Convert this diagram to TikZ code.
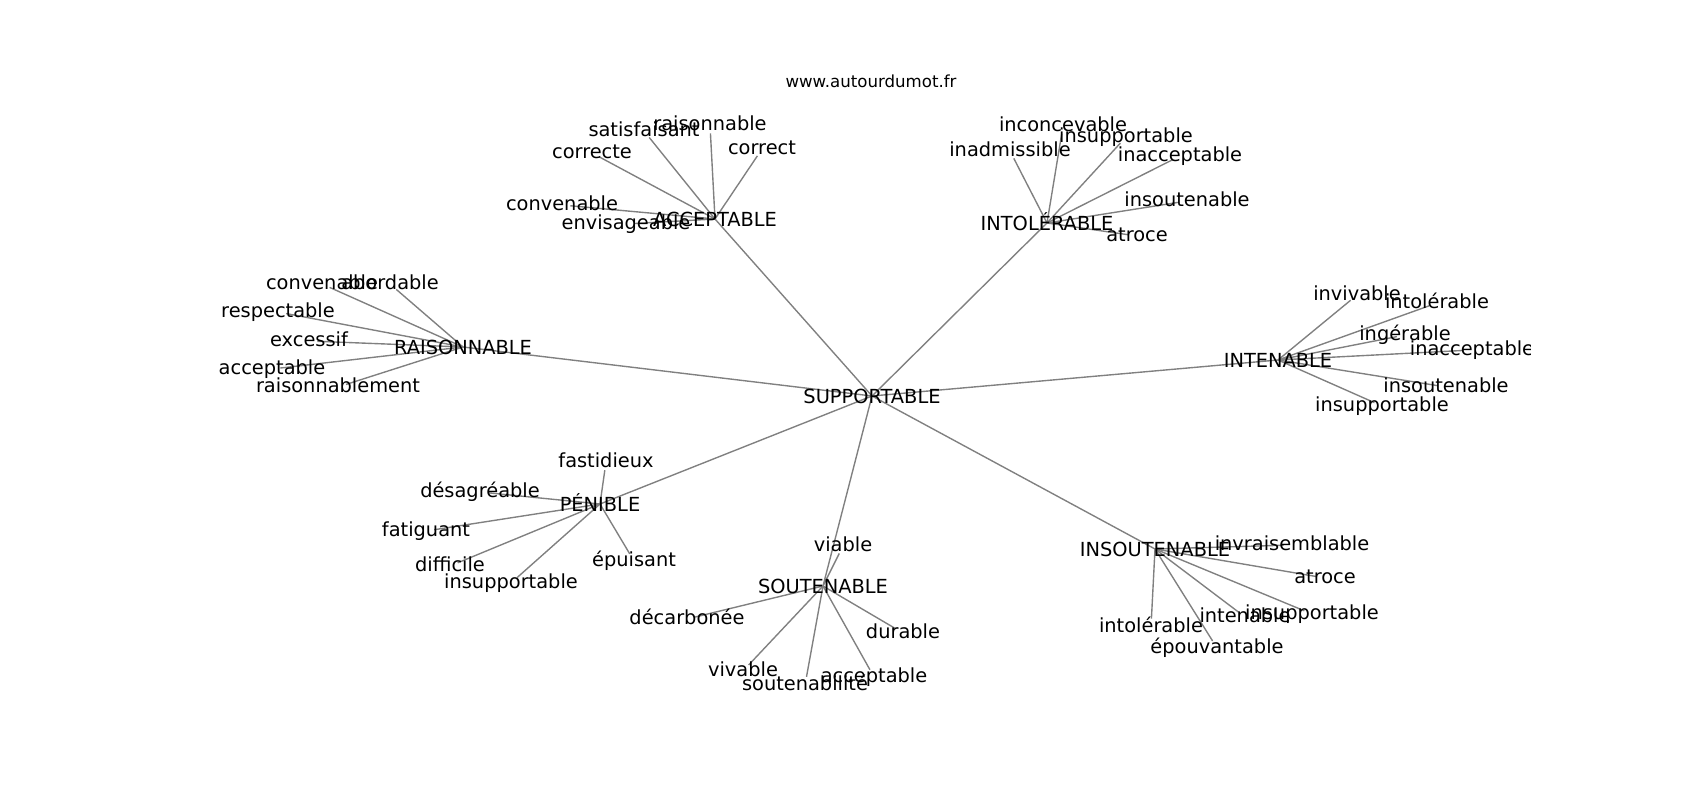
\documentclass[tikz,border=0pt]{standalone}
\usepackage{fontspec}
\setmainfont{DejaVu Sans}
\usetikzlibrary{backgrounds}

\tikzset{
  word/.style={font=\fontsize{14}{16}\selectfont, inner sep=0pt, text height=10.6pt, text depth=2.9pt},
  hubword/.style={word, text height=13.5pt},
  link/.style={draw=black!50, line width=1pt},
  leaflink/.style={link, shorten >=6pt},
}

\begin{document}
\begin{tikzpicture}[x=0.01in, y=-0.01in]
    \useasboundingbox (0,0) rectangle (1700,800);

    % Title
    \node[font=\fontsize{12}{14}\selectfont, anchor=base, inner sep=0pt] (title) at (871,87.7) {www.autourdumot.fr};

    \begin{scope}
    \clip (212.5,96) rectangle (1530,712);

    % Centre word
    \node[hubword] (sup) at (872,396) {SUPPORTABLE};

    % Hubs
    \foreach \h/\x/\y/\t in {acc/715/219/ACCEPTABLE, intol/1047/223/INTOLÉRABLE, rais/463/347/RAISONNABLE, inten/1278/360/INTENABLE, pen/600/504/PÉNIBLE, sout/823/586/SOUTENABLE, insout/1155/549/INSOUTENABLE} {
      \node[hubword] (\h) at (\x,\y) {\t};
      \begin{scope}[on background layer]
        \draw[link] (sup.center) -- (\h.center);
      \end{scope}
    }

    % ACCEPTABLE
    \foreach \i/\x/\y/\t in {1/592/153/correcte, 2/644/131/satisfaisant, 3/710/125/raisonnable, 4/762/149/correct, 5/562/205/convenable, 6/626/224/envisageable} {
      \node[word] (acc\i) at (\x,\y) {\t};
      \begin{scope}[on background layer]
        \draw[leaflink] (acc.center) -- (acc\i.center);
      \end{scope}
    }

    % INTOLERABLE
    \foreach \i/\x/\y/\t in {1/1010/151/inadmissible, 2/1063/126/inconcevable, 3/1126/137/insupportable, 4/1180/156/inacceptable, 5/1187/201/insoutenable, 6/1137/236/atroce} {
      \node[word] (intol\i) at (\x,\y) {\t};
      \begin{scope}[on background layer]
        \draw[leaflink] (intol.center) -- (intol\i.center);
      \end{scope}
    }

    % RAISONNABLE
    \foreach \i/\x/\y/\t in {1/322/284/convenable, 2/390/284/abordable, 3/278/312/respectable, 4/309/341/excessif, 5/272/369/acceptable, 6/338/387/raisonnablement} {
      \node[word] (rais\i) at (\x,\y) {\t};
      \begin{scope}[on background layer]
        \draw[leaflink] (rais.center) -- (rais\i.center);
      \end{scope}
    }

    % INTENABLE
    \foreach \i/\x/\y/\t in {1/1357/295/invivable, 2/1437/303/intolérable, 3/1405/335/ingérable, 4/1472/350/inacceptable, 5/1446/387/insoutenable, 6/1382/406/insupportable} {
      \node[word] (inten\i) at (\x,\y) {\t};
      \begin{scope}[on background layer]
        \draw[leaflink] (inten.center) -- (inten\i.center);
      \end{scope}
    }

    % PENIBLE
    \foreach \i/\x/\y/\t in {1/606/462/fastidieux, 2/480/492/désagréable, 3/426/531/fatiguant, 4/450/566/difficile, 5/511/583/insupportable, 6/634/561/épuisant} {
      \node[word] (pen\i) at (\x,\y) {\t};
      \begin{scope}[on background layer]
        \draw[leaflink] (pen.center) -- (pen\i.center);
      \end{scope}
    }

    % SOUTENABLE
    \foreach \i/\x/\y/\t in {1/843/546/viable, 2/687/619/décarbonée, 3/903/633/durable, 4/743/671/vivable, 5/805/685/soutenabilité, 6/874/677/acceptable} {
      \node[word] (sout\i) at (\x,\y) {\t};
      \begin{scope}[on background layer]
        \draw[leaflink] (sout.center) -- (sout\i.center);
      \end{scope}
    }

    % INSOUTENABLE
    \foreach \i/\x/\y/\t in {1/1292/545/invraisemblable, 2/1325/578/atroce, 3/1312/614/insupportable, 4/1245/617/intenable, 5/1151/627/intolérable, 6/1217/648/épouvantable} {
      \node[word] (insout\i) at (\x,\y) {\t};
      \begin{scope}[on background layer]
        \draw[leaflink] (insout.center) -- (insout\i.center);
      \end{scope}
    }
    \end{scope}

\end{tikzpicture}
\end{document}
